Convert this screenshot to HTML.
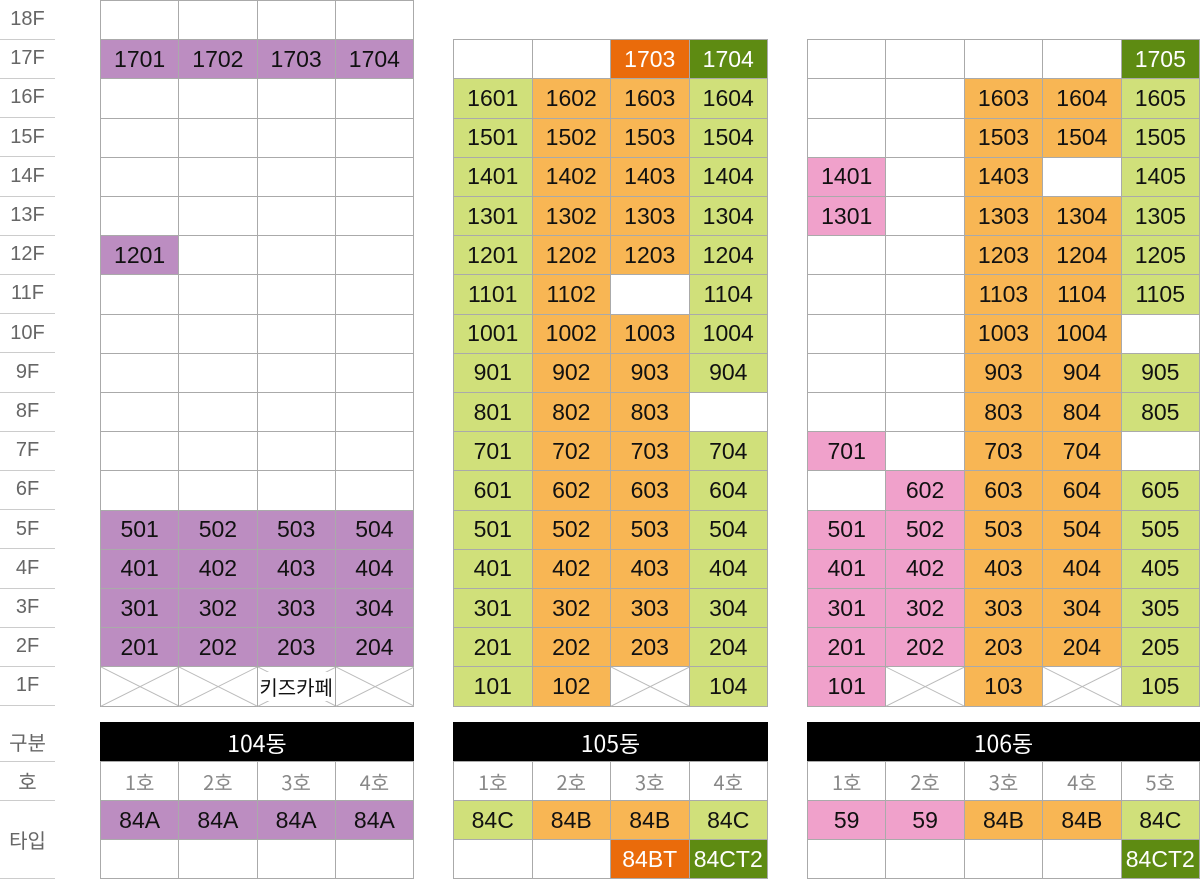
<!DOCTYPE html>
<html><head><meta charset="utf-8">
<style>
html,body{margin:0;padding:0;background:#fff;}
#root{position:relative;width:1200px;height:886px;overflow:hidden;font-family:"Liberation Sans Narrow","Liberation Sans","Noto Sans CJK KR",sans-serif;}
.c{position:absolute;box-sizing:border-box;border:1px solid #aaa;display:flex;align-items:center;justify-content:center;font-size:23px;color:#111;}
.lbl{position:absolute;left:0;width:55px;display:flex;align-items:center;justify-content:center;font-size:20px;color:#666;font-family:"Liberation Sans","Noto Sans CJK KR",sans-serif;}
.ln{position:absolute;left:0;width:55px;height:1px;background:#ccc;}
.c svg{position:absolute;left:0;top:0;}
.c span{position:relative;}
</style></head><body>
<div id="root"></div>
<script>
const floors=["18F","17F","16F","15F","14F","13F","12F","11F","10F","9F","8F","7F","6F","5F","4F","3F","2F","1F"];
const colors={P:"#bc8dc1",G:"#d0e07a",O:"#f8b654",K:"#f0a1cb",D:"#ea6b0b",E:"#5e8b12",W:"#fff"};
// each building: x range, column colors, rows top->bottom (cell "" empty, "X" crossed, "X:text" crossed w/ text, "D:1703" override color)
const b104Rows=[
["","","",""],["1701","1702","1703","1704"],["","","",""],["","","",""],["","","",""],["","","",""],
["1201","","",""],["","","",""],["","","",""],["","","",""],["","","",""],["","","",""],["","","",""],
["501","502","503","504"],["401","402","403","404"],["301","302","303","304"],["201","202","203","204"],["X","X","X:키즈카페","X"]];
const b105Rows=[
["","","D:1703","E:1704"],["1601","1602","1603","1604"],["1501","1502","1503","1504"],["1401","1402","1403","1404"],
["1301","1302","1303","1304"],["1201","1202","1203","1204"],["1101","1102","","1104"],["1001","1002","1003","1004"],
["901","902","903","904"],["801","802","803",""],["701","702","703","704"],["601","602","603","604"],
["501","502","503","504"],["401","402","403","404"],["301","302","303","304"],["201","202","203","204"],["101","102","X","104"]];
const b106Rows=[
["","","","","E:1705"],["","","1603","1604","1605"],["","","1503","1504","1505"],["1401","","1403","","1405"],
["1301","","1303","1304","1305"],["","","1203","1204","1205"],["","","1103","1104","1105"],["","","1003","1004",""],
["","","903","904","905"],["","","803","804","805"],["701","","703","704",""],["","602","603","604","605"],
["501","502","503","504","505"],["401","402","403","404","405"],["301","302","303","304","305"],["201","202","203","204","205"],["101","X","103","X","105"]];
const buildings=[
{name:"104동",x0:100,x1:413,startRow:0,cols:["P","P","P","P"],rows:b104Rows,types:["84A","84A","84A","84A"],types2:["","","",""]},
{name:"105동",x0:453,x1:767,startRow:1,cols:["G","O","O","G"],rows:b105Rows,types:["84C","84B","84B","84C"],types2:["","","D:84BT","E:84CT2"]},
{name:"106동",x0:807,x1:1199,startRow:1,cols:["K","K","O","O","G"],rows:b106Rows,types:["59","59","84B","84B","84C"],types2:["","","","","E:84CT2"]}];
const RH=39.2;
const root=document.getElementById('root');
function cell(x,y,w,h,txt,bg,fg,name){
  const d=document.createElement('div');d.className='c';
  
  
  d.style.left=x+'px';d.style.top=y+'px';d.style.width=(w+1)+'px';d.style.height=(h+1)+'px';
  d.style.background=bg;if(fg)d.style.color=fg;
  if(txt.startsWith('X')){
    d.innerHTML='<svg width="'+w+'" height="'+h+'"><line x1="0" y1="'+h+'" x2="'+w+'" y2="0" stroke="#bbb"/><line x1="0" y1="0" x2="'+w+'" y2="'+h+'" stroke="#bbb"/></svg>';
    txt=txt.length>2?txt.slice(2):'';
    if(txt){d.style.background=bg;const s=document.createElement('span');s.textContent=txt;s.style.background='#fff';s.style.fontFamily='"Noto Sans CJK KR",sans-serif';s.style.fontSize='20px';d.appendChild(s);}
  } else {const s=document.createElement('span');s.textContent=txt;d.appendChild(s);}
  root.appendChild(d);return d;
}
function parse(t,def){const m=t.match(/^([A-Z]):(.*)$/);if(m&&m[1]!=='X')return[m[2],m[1]];return[t,def];}
floors.forEach((f,i)=>{
  const l=document.createElement('div');l.className='lbl';
  
  
  l.style.top=(i*RH)+'px';l.style.height=RH+'px';l.textContent=f;root.appendChild(l);
  const ln=document.createElement('div');ln.className='ln';
  
  
  ln.style.top=((i+1)*RH-0.5)+'px';root.appendChild(ln);
});
[["구분",722,761],["호",761,800],["타입",800,878]].forEach(([t,a,b])=>{
  const l=document.createElement('div');l.className='lbl';
  
  
  l.style.top=a+'px';l.style.height=(b-a)+'px';l.textContent=t;root.appendChild(l);
  const ln=document.createElement('div');ln.className='ln';
  
  
  ln.style.top=b+'px';root.appendChild(ln);
});
buildings.forEach(B=>{
  const n=B.cols.length,cw=(B.x1-B.x0)/n;
  B.rows.forEach((row,ri)=>{
    const y=(B.startRow+ri)*RH;
    row.forEach((t,ci)=>{
      let bg="#fff",fg=null,txt=t;
      if(t===""){}
      else if(t.startsWith('X')){}
      else{const p=parse(t,B.cols[ci]);txt=p[0];bg=colors[p[1]];if(p[1]==='D'||p[1]==='E')fg='#fff';}
      cell(B.x0+ci*cw,y,cw,RH,txt,bg,fg,'unit-'+(txt||'empty'));
    });
  });
  const h=cell(B.x0,722,B.x1-B.x0,39,B.name,'#000','#fff','building-header');
  h.style.borderColor='#000';h.style.fontFamily='"Liberation Sans Narrow","Noto Sans CJK KR",sans-serif';
  for(let ci=0;ci<n;ci++){
    const c=cell(B.x0+ci*cw,761,cw,39,(ci+1)+'호','#fff','#888','unit-number');
    c.style.fontSize='20px';c.style.fontFamily='"Liberation Sans Narrow","Noto Sans CJK KR",sans-serif';
    cell(B.x0+ci*cw,800,cw,39,B.types[ci],colors[B.cols[ci]],null,'unit-type');
    const p=parse(B.types2[ci],'W');
    cell(B.x0+ci*cw,839,cw,39,p[0],colors[p[1]],p[1]==='W'?null:'#fff','unit-type-extra');
  }
});
</script>
</body></html>
